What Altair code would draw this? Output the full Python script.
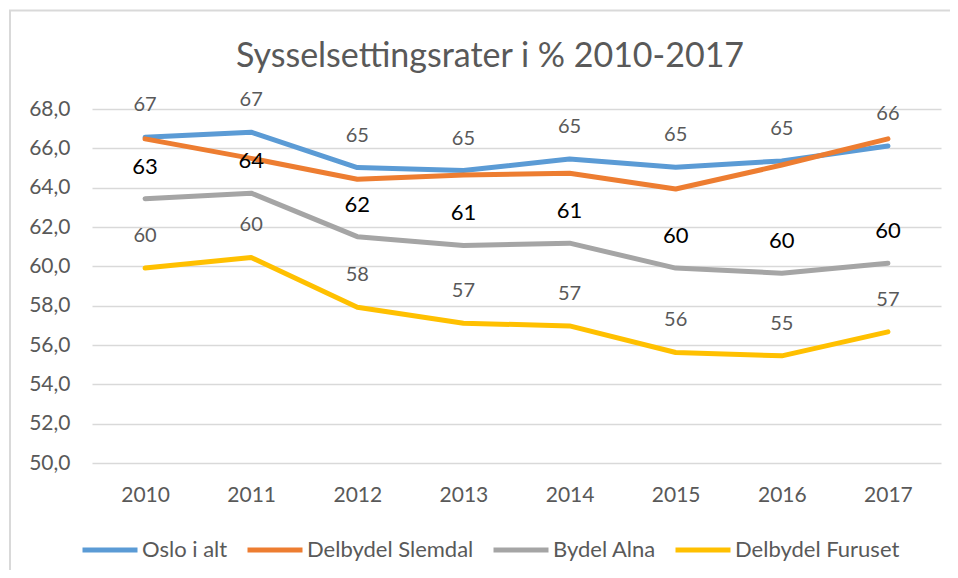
import altair as alt
import pandas as pd

years = ["2010", "2011", "2012", "2013", "2014", "2015", "2016", "2017"]
series_names = ["Oslo i alt", "Delbydel Slemdal", "Bydel Alna", "Delbydel Furuset"]
oslo = [66.56, 66.82, 65.02, 64.87, 65.46, 65.04, 65.36, 66.12]
slemdal = [66.48, 65.49, 64.43, 64.65, 64.73, 63.93, 65.15, 66.48]
alna = [63.44, 63.72, 61.51, 61.06, 61.18, 59.91, 59.65, 60.16]
furuset = [59.91, 60.45, 57.92, 57.11, 56.97, 55.62, 55.45, 56.67]
colors = ["#5B9BD5", "#ED7D31", "#A5A5A5", "#FFC000"]
y_ticks = [50, 52, 54, 56, 58, 60, 62, 64, 66, 68]
title_text = "Sysselsettingsrater i % 2010-2017"

rows = []
for name, vals in zip(series_names, [oslo, slemdal, alna, furuset]):
    for yr, v in zip(years, vals):
        rows.append({"year": yr, "series": name, "value": v})
df = pd.DataFrame(rows)

FONT = "Lato"
GREY = "#595959"

x_enc = alt.X("year:O", sort=years,
              scale=alt.Scale(type="point", padding=0.5),
              axis=alt.Axis(title=None, labelAngle=0, grid=False, domain=False, ticks=False,
                            labelPadding=21))
y_enc = alt.Y("value:Q",
              scale=alt.Scale(domain=[50, 68], nice=False, zero=False),
              axis=alt.Axis(title=None, values=y_ticks, grid=True, gridColor="#d9d9d9", gridWidth=1.5,
                            domain=False, ticks=False, labelPadding=22,
                            labelExpr="replace(format(datum.value, '.1f'), '.', ',')"))
color_enc = alt.Color("series:N",
                      scale=alt.Scale(domain=series_names, range=colors),
                      legend=alt.Legend(orient="none", legendX=-12, legendY=411, direction="horizontal",
                                        title=None, symbolType="stroke", symbolSize=3025,
                                        symbolStrokeWidth=5, labelFont=FONT, labelFontSize=22,
                                        labelLimit=400,
                                        labelColor=GREY, labelOffset=2, columnPadding=9, padding=0))

one = pd.DataFrame({"t": [title_text]})

frame = alt.Chart(one).mark_rect(
    filled=False, stroke="#d9d9d9", strokeWidth=2
).encode(x=alt.value(-82), x2=alt.value(900), y=alt.value(-98.5), y2=alt.value(600))

title = alt.Chart(one).mark_text(
    font=FONT, fontSize=34, color=GREY, baseline="alphabetic", align="center"
).encode(x=alt.value(398), y=alt.value(-42), text="t:N")

layers = [frame, title]
for name in series_names:
    layers.append(
        alt.Chart(df).transform_filter(alt.datum.series == name)
        .mark_line(strokeWidth=5, strokeCap="round", strokeJoin="round")
        .encode(x=x_enc, y=y_enc, color=color_enc)
    )

label_specs = [("Oslo i alt", 20, GREY), ("Bydel Alna", 22, "#000000"), ("Delbydel Furuset", 20, GREY)]
for name, fs, col in label_specs:
    layers.append(
        alt.Chart(df).transform_filter(alt.datum.series == name)
        .mark_text(font=FONT, fontSize=fs, color=col, dy=-32, baseline="middle")
        .encode(x=x_enc, y=y_enc, text=alt.Text("value:Q", format=".0f"))
    )

chart = alt.layer(*layers).properties(
    width=849, height=354,
    autosize=alt.AutoSizeParams(type="none"),
    padding={"left": 84, "top": 101, "right": 9, "bottom": 107},
).configure_view(stroke=None).configure_axis(
    labelFont=FONT, labelFontSize=21, labelColor=GREY
)

chart.save("out.html", embed_options={"renderer": "svg", "actions": False})
